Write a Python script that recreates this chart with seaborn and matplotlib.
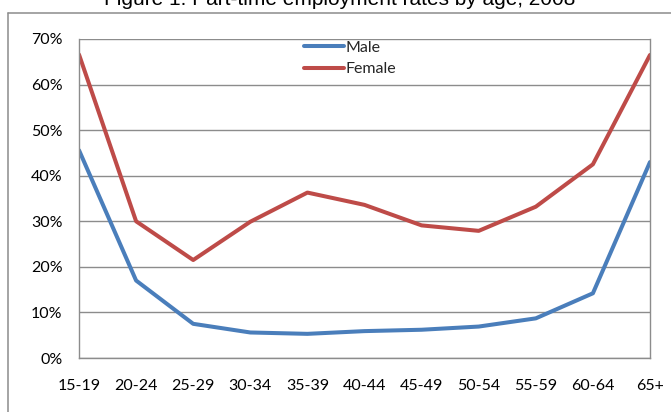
import matplotlib
matplotlib.use("Agg")
import matplotlib.pyplot as plt
from matplotlib.lines import Line2D
from matplotlib.ticker import PercentFormatter
import seaborn as sns
import pandas as pd

# Part-time employment rates (%) by age group
age_groups = ["15-19", "20-24", "25-29", "30-34", "35-39", "40-44",
              "45-49", "50-54", "55-59", "60-64", "65+"]
male = [45.6, 17.0, 7.5, 5.6, 5.3, 5.9, 6.2, 6.9, 8.7, 14.2, 43.0]
female = [66.6, 30.0, 21.5, 29.9, 36.3, 33.6, 29.1, 27.9, 33.2, 42.5, 66.5]
series_names = ["Male", "Female"]
colors = ["#4A7EBB", "#BE4B48"]

df = pd.DataFrame({
    "age": age_groups * 2,
    "pos": list(range(len(age_groups))) * 2,
    "rate": male + female,
    "sex": [series_names[0]] * len(male) + [series_names[1]] * len(female),
})

sns.set_style("white")
plt.rcParams["font.family"] = ["Lato", "DejaVu Sans"]

W, H = 671, 412
fig = plt.figure(figsize=(W / 100, H / 100), dpi=100)
ax = fig.add_axes([79 / W, 1 - 358 / H, (650 - 79) / W, (358 - 39) / H])

lw = 2.9
sns.lineplot(data=df, x="pos", y="rate", hue="sex", palette=colors,
             hue_order=series_names, linewidth=lw, sort=False,
             legend=False, ax=ax)

grid_c = "#8c8c8c"
ax.set_xlim(0, len(age_groups) - 1)
ax.set_ylim(0, 70)
ax.set_yticks(range(0, 71, 10))
ax.yaxis.set_major_formatter(PercentFormatter(decimals=0))
ax.set_xticks(range(len(age_groups)))
ax.set_xticklabels(age_groups)
ax.set_xlabel("")
ax.set_ylabel("")
ax.yaxis.grid(True, color=grid_c, linewidth=1.0)
ax.set_axisbelow(True)
for side in ["left", "bottom", "right"]:
    ax.spines[side].set_visible(True)
    ax.spines[side].set_color(grid_c)
    ax.spines[side].set_linewidth(1.0)
ax.spines["top"].set_visible(False)
ax.tick_params(axis="both", which="major", direction="out", length=5,
               width=1.0, color=grid_c, labelsize=11.5, labelcolor="#000000")
ax.tick_params(axis="y", pad=7)
ax.tick_params(axis="x", pad=10)

handles = [Line2D([], [], color=c, linewidth=lw) for c in colors]
ax.legend(handles, series_names, loc="upper center",
          bbox_to_anchor=(0.475, 1.03), frameon=False, fontsize=11.5,
          handlelength=2.5, handletextpad=0.1, labelspacing=0.45,
          borderpad=0.2)

# Outer chart border (left and top edges)
fig.add_artist(Line2D([8 / W, 8 / W], [0, 1 - 13 / H], transform=fig.transFigure,
                      color=grid_c, linewidth=1.1))
fig.add_artist(Line2D([8 / W, 1], [1 - 13 / H, 1 - 13 / H], transform=fig.transFigure,
                      color=grid_c, linewidth=1.1))

fig.text(340 / W, 1 - 5 / H, "Figure 1: Part-time employment rates by age, 2008",
         ha="center", va="baseline", fontsize=15, family=["Liberation Sans"],
         color="#000000")

fig.savefig("out.png", dpi=100)
